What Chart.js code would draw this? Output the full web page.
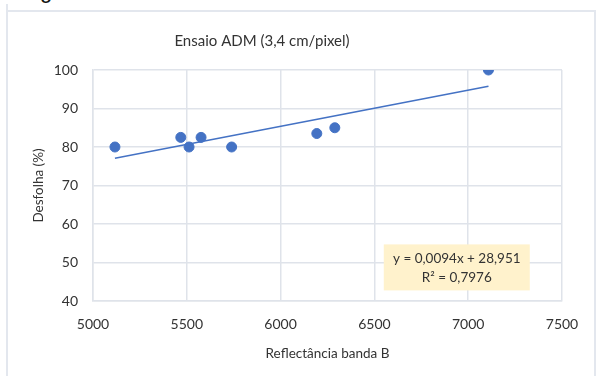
<!DOCTYPE html>
<html>
<head>
<meta charset="utf-8">
<script src="https://cdn.jsdelivr.net/npm/chart.js@4/dist/chart.umd.min.js"></script>
<style>
  html, body { margin: 0; padding: 0; background: #ffffff; }
  #wrap { position: relative; width: 603px; height: 376px; overflow: hidden; }
  #frameL { position: absolute; left: 6px; top: 4px; width: 2px; height: 372px; background: #e3e7ee; }
  #frameT { position: absolute; left: 7px; top: 10px; width: 589px; height: 2px; background: #e3e7ee; }
  #frameR { position: absolute; left: 594px; top: 10px; width: 2px; height: 366px; background: #e3e7ee; }
  #g { position: absolute; left: 40px; top: -22px; font: 22px "Liberation Sans", Arial, sans-serif; color: #111; }
  canvas { position: absolute; left: 0; top: 0; }
</style>
</head>
<body>
<div id="wrap">
  <div id="g">g</div>
  <div id="frameL"></div>
  <div id="frameT"></div>
  <div id="frameR"></div>
  <canvas id="c" width="603" height="376"></canvas>
</div>
<script>
const chartTitle = "Ensaio ADM (3,4 cm/pixel)";
const xAxisTitle = "Reflectância banda B";
const yAxisTitle = "Desfolha (%)";
const reflectanceB = [5117, 5468, 5512, 5576, 5739, 6193, 6289, 7108];
const defoliation = [80, 82.5, 80, 82.5, 80, 83.5, 85, 100];
const trendSlope = [0.0094];
const trendIntercept = [28.951];
const equationLabels = ["y = 0,0094x + 28,951", "R² = 0,7976"];
const xTicks = [5000, 5500, 6000, 6500, 7000, 7500];
const yTicks = [40, 50, 60, 70, 80, 90, 100];

const FONT = "Lato, 'Open Sans', sans-serif";
const blue = "#4472C4";
const grid = "#dfe3ea";
const textCol = "#333333";

const points = reflectanceB.map((x, i) => ({ x: x, y: defoliation[i] }));
const xMin = Math.min(...reflectanceB), xMax = Math.max(...reflectanceB);
const trend = [xMin, xMax].map(x => ({ x: x, y: trendSlope[0] * x + trendIntercept[0] }));

const overlay = {
  id: 'overlay',
  afterDraw(chart) {
    const ctx = chart.ctx;
    ctx.save();
    ctx.fillStyle = textCol;
    ctx.font = "15px " + FONT;
    ctx.textAlign = "center";
    ctx.textBaseline = "middle";
    ctx.fillText(chartTitle, 262, 41);
    const xs = chart.scales.x, ys = chart.scales.y;
    const bx = xs.getPixelForValue(6550), by = ys.getPixelForValue(54.7);
    const bw = 146, bh = 46;
    ctx.fillStyle = "#FFF2CC";
    ctx.fillRect(bx, by, bw, bh);
    ctx.fillStyle = textCol;
    ctx.font = "13.5px " + FONT;
    ctx.fillText(equationLabels[0], bx + bw / 2, by + 14);
    ctx.fillText(equationLabels[1], bx + bw / 2, by + 33);
    ctx.restore();
  }
};

new Chart(document.getElementById('c'), {
  type: 'scatter',
  data: {
    datasets: [
      {
        type: 'line',
        data: trend,
        borderColor: blue,
        borderWidth: 1.5,
        pointRadius: 0,
        fill: false,
        order: 2
      },
      {
        data: points,
        backgroundColor: blue,
        borderColor: blue,
        pointRadius: 5,
        pointHoverRadius: 5,
        order: 1
      }
    ]
  },
  options: {
    responsive: false,
    animation: false,
    events: [],
    layout: { padding: { top: 70, right: 41, left: 31, bottom: 14 } },
    plugins: { legend: { display: false }, tooltip: { enabled: false }, title: { display: false } },
    scales: {
      x: {
        type: 'linear',
        min: 5000, max: 7500,
        afterBuildTicks: s => { s.ticks = xTicks.map(v => ({ value: v })); },
        afterFit: s => { s.height = 61; },
        grid: { color: grid, lineWidth: 1.5, drawTicks: false },
        border: { color: grid, width: 1.5 },
        ticks: { color: textCol, font: { family: FONT, size: 14 }, padding: 15, maxRotation: 0, callback: v => String(v) },
        title: { display: true, text: xAxisTitle, color: textCol, font: { family: FONT, size: 13.5 }, padding: 0 }
      },
      y: {
        type: 'linear',
        min: 40, max: 100,
        afterBuildTicks: s => { s.ticks = yTicks.map(v => ({ value: v })); },
        afterFit: s => { s.width = 62; },
        grid: { color: grid, lineWidth: 1.5, drawTicks: false },
        border: { color: grid, width: 1.5 },
        ticks: { color: textCol, font: { family: FONT, size: 14 }, padding: 15, callback: v => String(v) },
        title: { display: true, text: yAxisTitle, color: textCol, font: { family: FONT, size: 13.5 }, padding: 0 }
      }
    }
  },
  plugins: [overlay]
});
</script>
</body>
</html>
